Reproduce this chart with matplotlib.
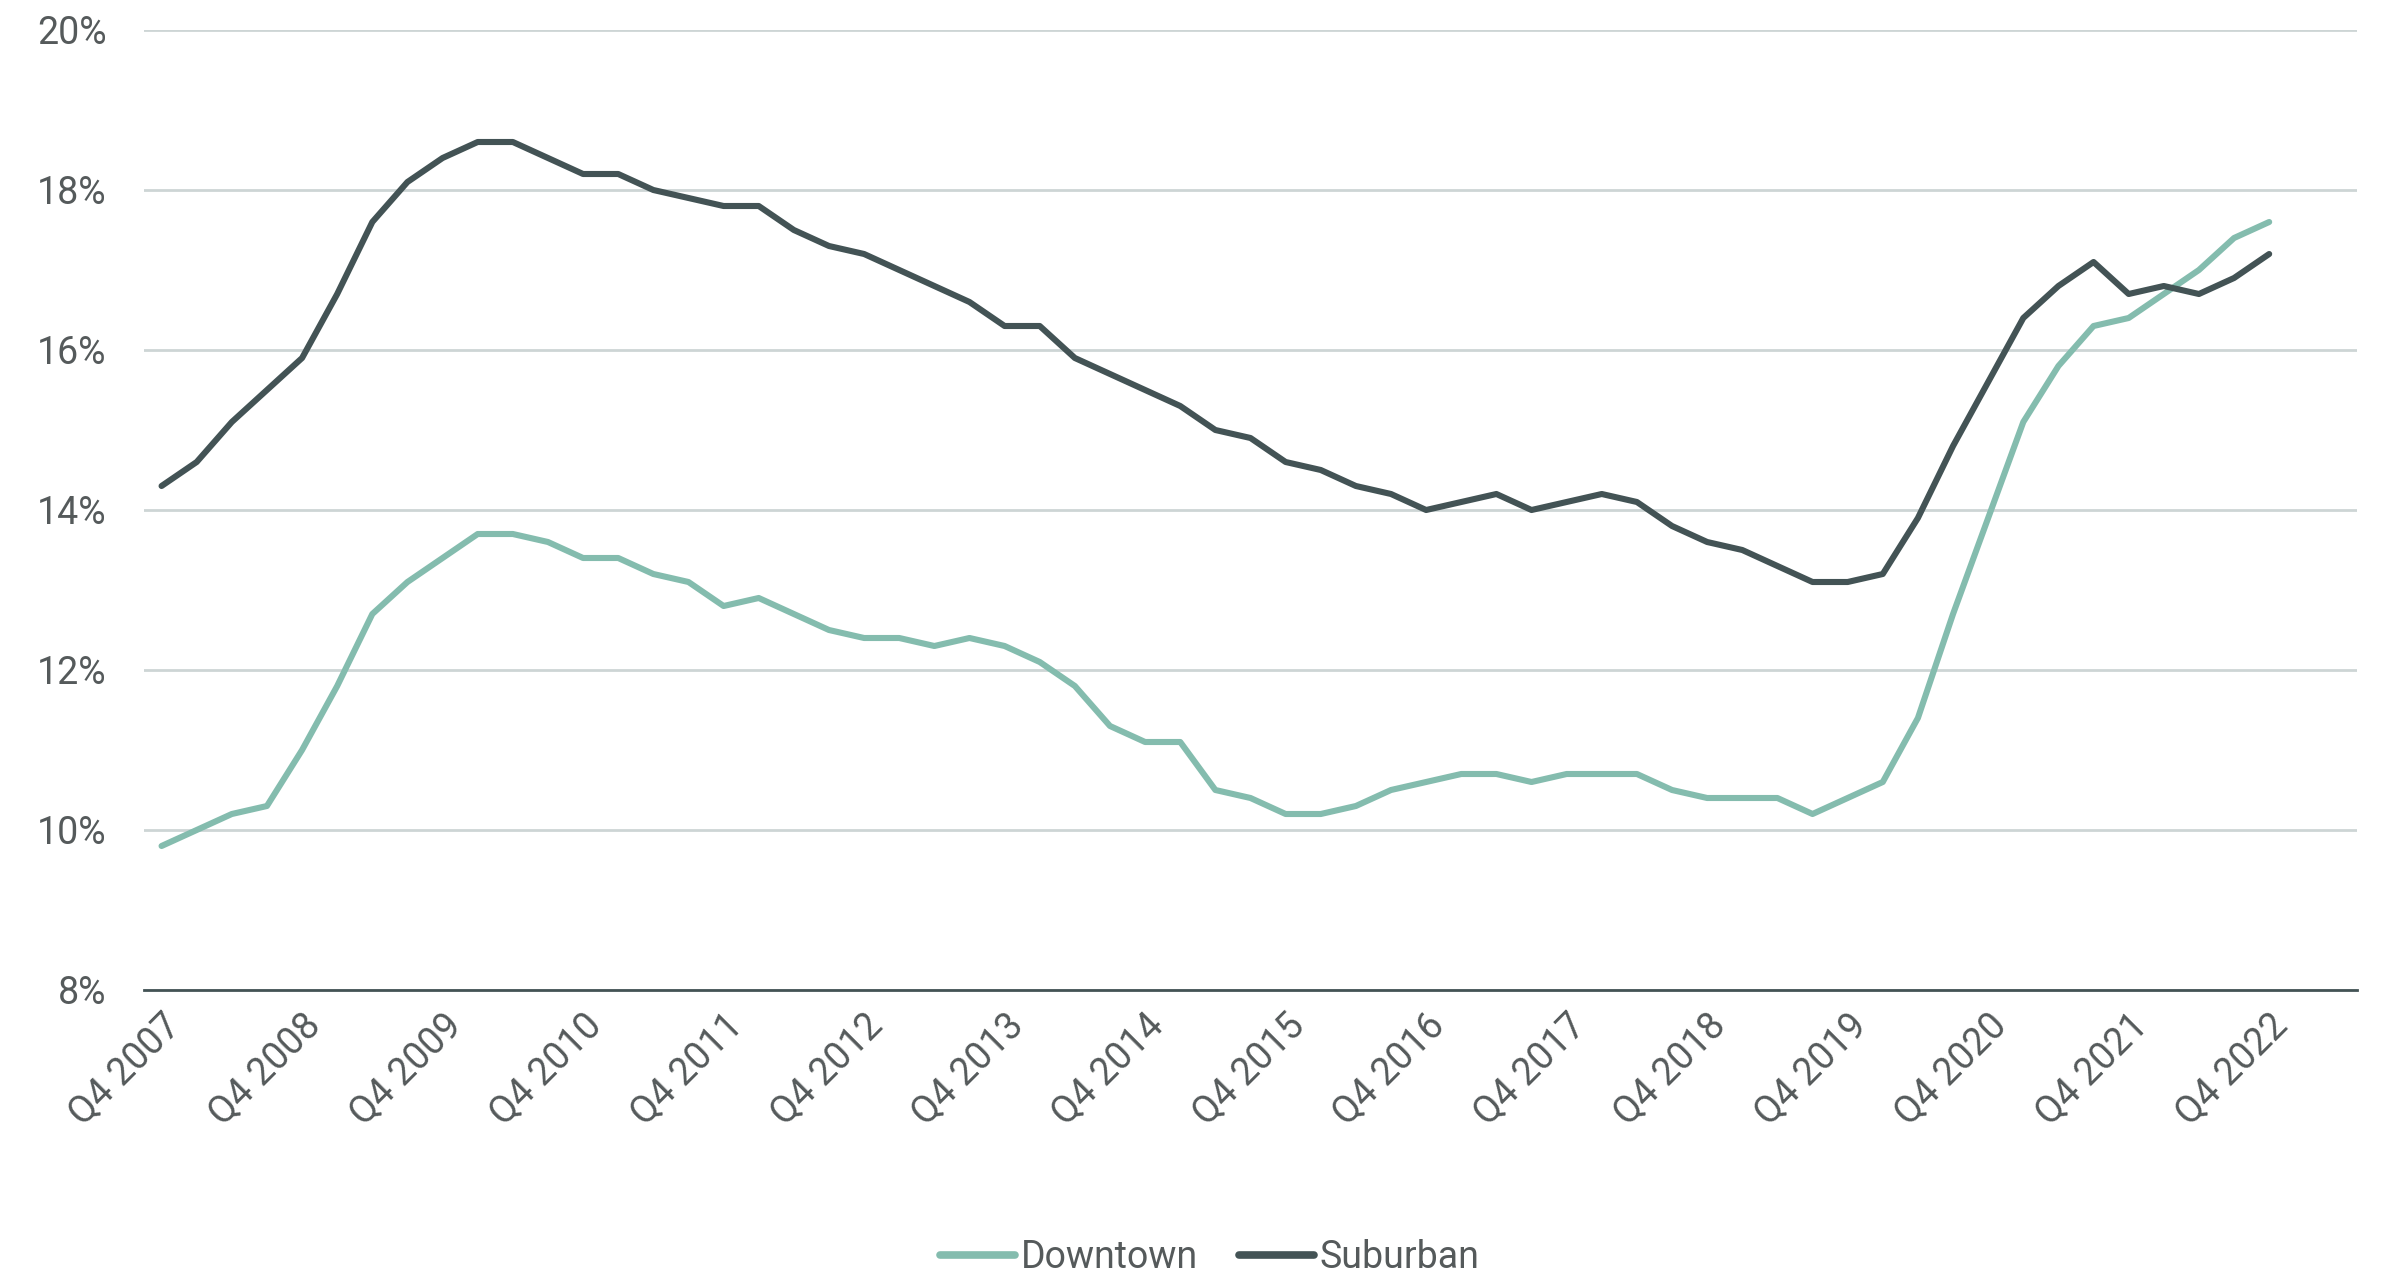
import matplotlib
matplotlib.use("Agg")
import matplotlib.pyplot as plt
import numpy as np

# quarterly vacancy rates, Q4 2007 .. Q4 2022
tick_labels = [f"Q4 {y}" for y in range(2007, 2023)]

downtown = [9.8, 10.0, 10.2, 10.3, 11.0, 11.8, 12.7, 13.1, 13.4, 13.7,
            13.7, 13.6, 13.4, 13.4, 13.2, 13.1, 12.8, 12.9, 12.7, 12.5,
            12.4, 12.4, 12.3, 12.4, 12.3, 12.1, 11.8, 11.3, 11.1, 11.1,
            10.5, 10.4, 10.2, 10.2, 10.3, 10.5, 10.6, 10.7, 10.7, 10.6,
            10.7, 10.7, 10.7, 10.5, 10.4, 10.4, 10.4, 10.2, 10.4, 10.6,
            11.4, 12.7, 13.9, 15.1, 15.8, 16.3, 16.4, 16.7, 17.0, 17.4,
            17.6]
suburban = [14.3, 14.6, 15.1, 15.5, 15.9, 16.7, 17.6, 18.1, 18.4, 18.6,
            18.6, 18.4, 18.2, 18.2, 18.0, 17.9, 17.8, 17.8, 17.5, 17.3,
            17.2, 17.0, 16.8, 16.6, 16.3, 16.3, 15.9, 15.7, 15.5, 15.3,
            15.0, 14.9, 14.6, 14.5, 14.3, 14.2, 14.0, 14.1, 14.2, 14.0,
            14.1, 14.2, 14.1, 13.8, 13.6, 13.5, 13.3, 13.1, 13.1, 13.2,
            13.9, 14.8, 15.6, 16.4, 16.8, 17.1, 16.7, 16.8, 16.7, 16.9,
            17.2]

c_down = "#84bcae"
c_sub = "#435355"
c_grid = "#cdd5d5"
c_text = "#555a5b"

plt.rcParams["font.family"] = ["Roboto", "DejaVu Sans"]

fig = plt.figure(figsize=(23.81, 12.77), dpi=100)
ax = fig.add_axes([144 / 2381, 1 - 990 / 1277, (2357 - 144) / 2381, (990 - 30) / 1277])

x = np.arange(len(downtown))
ax.plot(x, downtown, color=c_down, lw=4.4, label="Downtown", solid_capstyle="round", zorder=3)
ax.plot(x, suburban, color=c_sub, lw=4.4, label="Suburban", solid_capstyle="round", zorder=3)

ax.set_ylim(8, 20)
ax.set_xlim(-0.5, 62.5)
ax.set_yticks(range(8, 21, 2))
ax.set_yticklabels([f"{v}%" for v in range(8, 21, 2)])
ax.set_xticks(np.arange(0, 61, 4))
ax.set_xticklabels(tick_labels, rotation=45, ha="right", va="top", rotation_mode="anchor")

ax.grid(axis="y", color=c_grid, lw=2)
ax.set_axisbelow(True)
for s in ("top", "right", "left"):
    ax.spines[s].set_visible(False)
ax.spines["bottom"].set_color(c_sub)
ax.spines["bottom"].set_linewidth(2)
ax.spines["bottom"].set_zorder(4)
ax.tick_params(axis="both", length=0, labelsize=27, colors=c_text)
ax.tick_params(axis="y", pad=27)
ax.tick_params(axis="x", pad=12)

leg = fig.legend(loc="lower center", bbox_to_anchor=(0.508, -0.026), ncol=2, frameon=False,
                 fontsize=27, handlelength=2.0, handletextpad=0.15, columnspacing=1.1)
for t in leg.get_texts():
    t.set_color(c_text)
for h in leg.get_lines():
    h.set_linewidth(5.5)
    h.set_solid_capstyle("round")

fig.savefig("out.png", dpi=100)
